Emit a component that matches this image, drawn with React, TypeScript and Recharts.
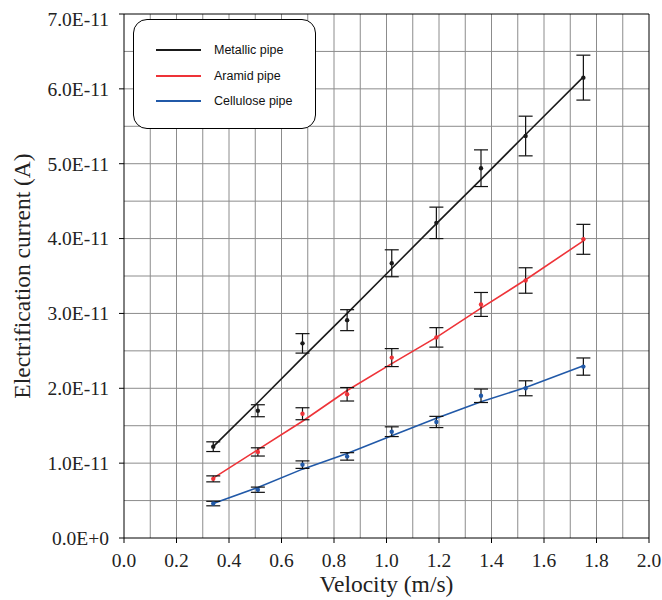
import React from "react";
import {
  ComposedChart,
  Line,
  XAxis,
  YAxis,
  CartesianGrid,
  ErrorBar,
  ReferenceLine,
} from "recharts";

// velocity (m/s)
const velocity = [0.34, 0.51, 0.68, 0.85, 1.02, 1.19, 1.36, 1.53, 1.75];

// currents in units of 1E-11 A
const metallic = [1.22, 1.7, 2.6, 2.91, 3.67, 4.21, 4.94, 5.37, 6.15];
const metallicErr = [0.065, 0.08, 0.13, 0.14, 0.18, 0.21, 0.245, 0.265, 0.3];
const metallicFit = [1.22, 1.81, 2.41, 3.0, 3.6, 4.2, 4.79, 5.39, 6.16];

const aramid = [0.79, 1.15, 1.66, 1.92, 2.41, 2.68, 3.12, 3.44, 3.99];
const aramidErr = [0.04, 0.055, 0.08, 0.09, 0.12, 0.13, 0.16, 0.17, 0.2];
const aramidFit = [0.8, 1.18, 1.56, 1.97, 2.33, 2.68, 3.07, 3.45, 3.97];

const cellulose = [0.46, 0.645, 0.98, 1.09, 1.42, 1.55, 1.9, 2.0, 2.29];
const celluloseErr = [0.03, 0.035, 0.05, 0.05, 0.065, 0.075, 0.09, 0.1, 0.115];
const celluloseFit = [0.46, 0.675, 0.92, 1.13, 1.366, 1.6, 1.82, 2.01, 2.3];

const xTicks = [0, 0.2, 0.4, 0.6, 0.8, 1.0, 1.2, 1.4, 1.6, 1.8, 2.0];
const yTicks = [0, 1, 2, 3, 4, 5, 6, 7];
const xGrid = [0.1, 0.2, 0.3, 0.4, 0.5, 0.6, 0.7, 0.8, 0.9, 1.0, 1.1, 1.2, 1.3, 1.4, 1.5, 1.6, 1.7, 1.8, 1.9];
const yGrid = [0.5, 1, 1.5, 2, 2.5, 3, 3.5, 4, 4.5, 5, 5.5, 6, 6.5];

const series = [
  { key: "metallic", name: "Metallic pipe", color: "#1a1a1a" },
  { key: "aramid", name: "Aramid pipe", color: "#ee3338" },
  { key: "cellulose", name: "Cellulose pipe", color: "#2159a8" },
];

const data = velocity.map((v, i) => ({
  v,
  metallic: metallic[i],
  metallicErr: metallicErr[i],
  metallicFit: metallicFit[i],
  aramid: aramid[i],
  aramidErr: aramidErr[i],
  aramidFit: aramidFit[i],
  cellulose: cellulose[i],
  celluloseErr: celluloseErr[i],
  celluloseFit: celluloseFit[i],
}));

const serif = "'Liberation Serif', 'Times New Roman', serif";
const tickStyle = { fill: "#222", fontSize: 19.5 };
const titleStyle = { fill: "#222", fontSize: 23.5 };

const fmtY = (v: number) => (v === 0 ? "0.0E+0" : `${v.toFixed(1)}E-11`);

export default function App() {
  // body margin moved into padding so the last x tick label is not cut off
  return (
    <div style={{ width: 662, height: 600, boxSizing: "border-box", padding: "8px 0 0 8px" }}>
      <style>{`body { margin: 0; } .chart-serif text { font-family: ${serif} !important; } .recharts-wrapper, .recharts-surface { overflow: visible !important; }`}</style>
      <div style={{ position: "relative", width: 654, height: 592 }}>
        <ComposedChart
          className="chart-serif"
          width={654}
          height={592}
          data={data}
          margin={{ top: 6, right: 13, left: 0, bottom: 0 }}
        >
          <CartesianGrid
            stroke="#8c8c8c"
            strokeWidth={1}
            verticalValues={xGrid}
            horizontalValues={yGrid}
          />
          <XAxis
            dataKey="v"
            type="number"
            domain={[0, 2]}
            ticks={xTicks}
            tickFormatter={(v: number) => v.toFixed(1)}
            height={62}
            stroke="#000"
            tickSize={5}
            tickMargin={10}
            tick={tickStyle}
            label={{
              value: "Velocity (m/s)",
              position: "insideBottom",
              offset: 8,
              style: titleStyle,
            }}
          />
          <YAxis
            type="number"
            domain={[0, 7]}
            ticks={yTicks}
            tickFormatter={fmtY}
            width={116}
            stroke="#000"
            tickSize={5}
            tickMargin={10}
            tick={tickStyle}
            label={{
              value: "Electrification current (A)",
              angle: -90,
              position: "insideLeft",
              offset: 14,
              style: { ...titleStyle, textAnchor: "middle" },
            }}
          />
          <ReferenceLine x={2} stroke="#000" strokeWidth={1} />
          <ReferenceLine y={7} stroke="#000" strokeWidth={1} />
          {series.map((s) => (
            <Line
              key={s.key + "Fit"}
              dataKey={s.key + "Fit"}
              stroke={s.color}
              strokeWidth={1.6}
              dot={false}
              isAnimationActive={false}
              legendType="none"
            />
          ))}
          {series.map((s) => (
            <Line
              key={s.key}
              dataKey={s.key}
              name={s.name}
              stroke="none"
              dot={{ r: 2.2, fill: s.color, stroke: "none" }}
              isAnimationActive={false}
            >
              <ErrorBar
                dataKey={s.key + "Err"}
                direction="y"
                width={7}
                stroke="#111"
                strokeWidth={1.2}
              />
            </Line>
          ))}
        </ComposedChart>
        <div
          style={{
            position: "absolute",
            left: 125,
            top: 11,
            width: 181,
            height: 108,
            border: "1px solid #000",
            borderRadius: 14,
            background: "#fff",
            fontFamily: "'Liberation Sans', Arial, sans-serif",
            fontSize: 12.5,
            color: "#111",
          }}
        >
          {series.map((s, i) => (
            <div
              key={s.key}
              style={{
                position: "absolute",
                left: 22,
                top: 22 + i * 25.5,
                height: 16,
                display: "flex",
                alignItems: "center",
              }}
            >
              <div style={{ width: 45, height: 2, background: s.color }} />
              <span style={{ marginLeft: 13 }}>{s.name}</span>
            </div>
          ))}
        </div>
      </div>
    </div>
  );
}
